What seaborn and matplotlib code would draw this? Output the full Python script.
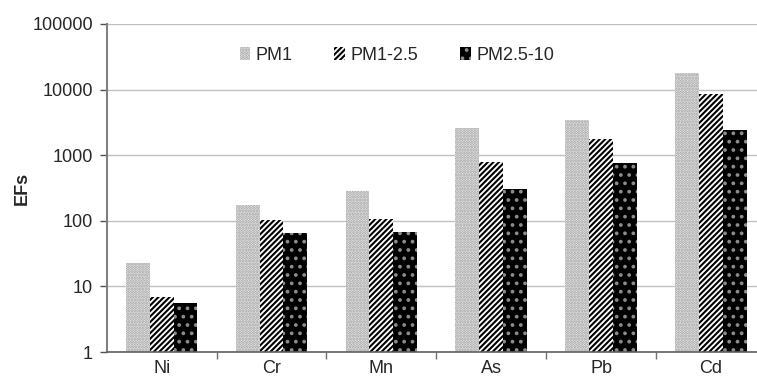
import pandas as pd
import seaborn as sns
import matplotlib.pyplot as plt
from matplotlib.ticker import FixedLocator

# Enrichment factors
elements = ["Ni", "Cr", "Mn", "As", "Pb", "Cd"]
pm1 = [22.7, 176, 280, 2600, 3450, 17900]
pm1_25 = [6.9, 103, 105, 790, 1780, 8600]
pm25_10 = [5.6, 65, 68, 305, 760, 2420]
fractions = ["PM1", "PM1-2.5", "PM2.5-10"]

rows = []
for name, vals in zip(fractions, [pm1, pm1_25, pm25_10]):
    for el, v in zip(elements, vals):
        rows.append({"element": el, "fraction": name, "EF": v})
df = pd.DataFrame(rows)

sns.set_style("white")
plt.rcParams["font.family"] = ["Liberation Sans", "DejaVu Sans"]
plt.rcParams["hatch.linewidth"] = 1.5

fig = plt.figure(figsize=(7.57, 3.86), dpi=100)
ax = fig.add_axes([0.141, 0.088, 0.8706, 0.85])

sns.barplot(data=df, x="element", y="EF", hue="fraction", order=elements,
            hue_order=fractions, width=0.65, gap=0, ax=ax, errorbar=None)

# fill styles: light dotted, black/white stripes, black with white dots
styles = {
    "PM1": dict(face="#f4f4f4", hatch="......", hc="#9a9a9a"),
    "PM1-2.5": dict(face="white", hatch="//////", hc="black"),
    "PM2.5-10": dict(face="black", hatch="..", hc="#8c8c8c"),
}


def paint(p, st):
    p.set_facecolor(st["face"])
    p.set_edgecolor(st["hc"])
    p.set_linewidth(0)
    p.set_hatch(st["hatch"])


for cont, name in zip(ax.containers, fractions):
    for p in cont:
        paint(p, styles[name])

ax.set_yscale("log")
ax.set_ylim(1, 100000)
ax.set_xlim(-0.5, 5.5)
ax.yaxis.set_major_locator(FixedLocator([1, 10, 100, 1000, 10000, 100000]))
ax.yaxis.set_minor_locator(FixedLocator([]))
ax.set_yticklabels(["1", "10", "100", "1000", "10000", "100000"])
ax.yaxis.grid(True, color="#c0c0c0", linewidth=1)
ax.set_axisbelow(True)

ax.xaxis.set_minor_locator(FixedLocator([0.5, 1.5, 2.5, 3.5, 4.5]))
ax.tick_params(axis="x", which="major", length=0, labelsize=13, pad=6)
ax.tick_params(axis="x", which="minor", length=5, width=1, color="#707070", direction="out", bottom=True)
ax.tick_params(axis="y", which="major", length=5, width=1, color="#505050", direction="out", left=True, labelsize=13, pad=5)

for s in ["top", "right"]:
    ax.spines[s].set_visible(False)
ax.spines["left"].set_color("#808080")
ax.spines["left"].set_linewidth(1.5)
ax.spines["bottom"].set_color("#606060")
ax.spines["bottom"].set_linewidth(1.2)

ax.set_xlabel("")
ax.set_ylabel("EFs", fontsize=13, fontweight="bold", labelpad=1)

leg = ax.legend(loc="center", bbox_to_anchor=(0.44, 0.905), ncol=3, frameon=False,
                fontsize=13, handlelength=0.6, handleheight=0.7, handletextpad=0.3,
                columnspacing=2.3)
for h, name in zip(leg.legend_handles, fractions):
    paint(h, styles[name])

fig.savefig("out.png", dpi=100)
